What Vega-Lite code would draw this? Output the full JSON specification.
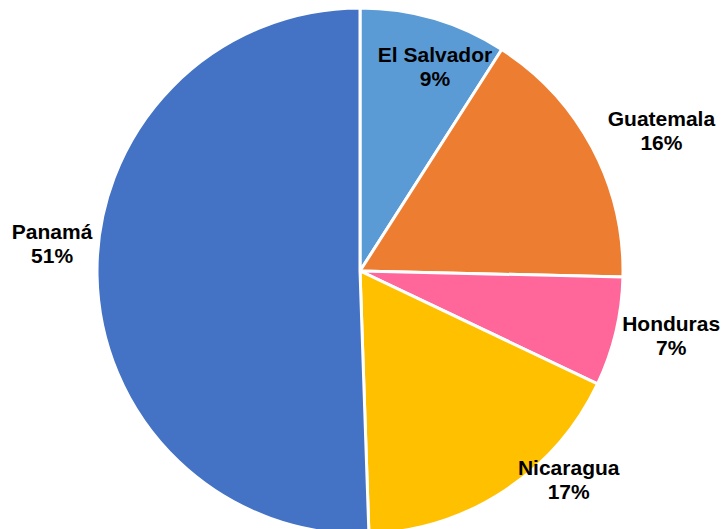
{
  "$schema": "https://vega.github.io/schema/vega-lite/v6.json",
  "width": 720,
  "height": 542,
  "autosize": "none",
  "padding": 0,
  "background": "white",
  "view": {"stroke": null},
  "config": {"text": {"font": "Liberation Sans", "fontWeight": "bold", "fontSize": 21, "lineHeight": 24, "align": "center", "baseline": "middle", "color": "black", "dy": -12}},
  "data": {
    "values": [
      {"country": "El Salvador", "value": 9.06},
      {"country": "Guatemala", "value": 16.3},
      {"country": "Honduras", "value": 6.7},
      {"country": "Nicaragua", "value": 17.4},
      {"country": "Panamá", "value": 50.54}
    ]
  },
  "transform": [
    {"stack": "value", "groupby": [], "as": ["v0", "v1"], "sort": [{"field": "country", "order": "ascending"}]},
    {"calculate": "(datum.v0 + datum.v1) / 2", "as": "mid"},
    {"calculate": "[datum.country, format(datum.value / 100, '.0%')]", "as": "label"}
  ],
  "layer": [
    {
      "mark": {"type": "arc", "outerRadius": 263, "stroke": "white", "strokeWidth": 3},
      "encoding": {
        "theta": {"field": "v0", "type": "quantitative", "scale": {"domain": [0, 100]}},
        "theta2": {"field": "v1"},
        "color": {
          "field": "country",
          "type": "nominal",
          "scale": {
            "domain": ["El Salvador", "Guatemala", "Honduras", "Nicaragua", "Panamá"],
            "range": ["#5B9BD5", "#ED7D31", "#FF6699", "#FFC000", "#4472C4"]
          },
          "legend": null
        }
      }
    },
    {
      "transform": [{"filter": "datum.country === 'El Salvador'"}],
      "mark": {"type": "text", "radius": 216, "thetaOffset": 0.07},
      "encoding": {"theta": {"field": "mid", "type": "quantitative", "scale": {"domain": [0, 100]}}, "text": {"field": "label"}}
    },
    {
      "transform": [{"filter": "datum.country === 'Guatemala'"}],
      "mark": {"type": "text", "radius": 332, "thetaOffset": 0.057},
      "encoding": {"theta": {"field": "mid", "type": "quantitative", "scale": {"domain": [0, 100]}}, "text": {"field": "label"}}
    },
    {
      "transform": [{"filter": "datum.country === 'Honduras'"}],
      "mark": {"type": "text", "radius": 318, "thetaOffset": -0.025},
      "encoding": {"theta": {"field": "mid", "type": "quantitative", "scale": {"domain": [0, 100]}}, "text": {"field": "label"}}
    },
    {
      "transform": [{"filter": "datum.country === 'Nicaragua'"}],
      "mark": {"type": "text", "radius": 296, "thetaOffset": -0.202},
      "encoding": {"theta": {"field": "mid", "type": "quantitative", "scale": {"domain": [0, 100]}}, "text": {"field": "label"}}
    },
    {
      "transform": [{"filter": "datum.country === 'Panamá'"}],
      "mark": {"type": "text", "radius": 309, "thetaOffset": 0.101},
      "encoding": {"theta": {"field": "mid", "type": "quantitative", "scale": {"domain": [0, 100]}}, "text": {"field": "label"}}
    }
  ]
}
